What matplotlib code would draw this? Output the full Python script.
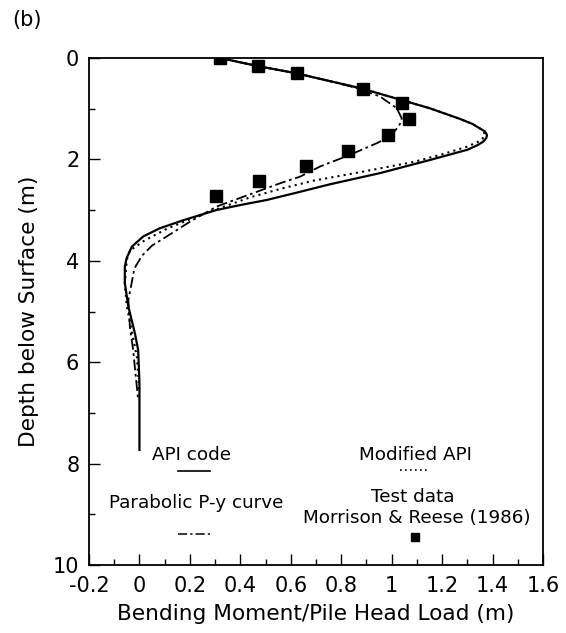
import matplotlib
matplotlib.use("Agg")
import matplotlib.pyplot as plt
from matplotlib.lines import Line2D

plt.rcParams['font.family'] = ['DejaVu Sans']

# ---- data (x = bending moment / pile head load, depth in m) ----
test_x = [0.32, 0.47, 0.625, 0.885, 1.04, 1.07, 0.985, 0.825, 0.66, 0.475, 0.305]
test_depth = [0.0, 0.16, 0.30, 0.61, 0.89, 1.20, 1.52, 1.83, 2.13, 2.43, 2.72]

api_x = [0.32, 0.47, 0.62, 0.75, 0.88, 1.04, 1.15, 1.27, 1.32, 1.35, 1.37, 1.378,
         1.375, 1.363, 1.34, 1.30, 1.153, 0.954, 0.756, 0.62, 0.505, 0.40, 0.304,
         0.174, 0.08, 0.015, -0.03, -0.051, -0.058, -0.058, -0.044, -0.018,
         -0.005, 0.0, 0.0]
api_depth = [0.0, 0.16, 0.30, 0.45, 0.60, 0.83, 0.99, 1.20, 1.30, 1.39, 1.45, 1.52,
             1.58, 1.65, 1.72, 1.81, 2.01, 2.27, 2.49, 2.66, 2.80, 2.90, 3.00,
             3.20, 3.36, 3.52, 3.72, 3.95, 4.12, 4.44, 4.90, 5.43,
             5.76, 6.41, 7.73]

mod_x = [0.32, 0.47, 0.62, 0.75, 0.88, 1.04, 1.15, 1.27, 1.32, 1.35, 1.365, 1.37,
         1.36, 1.34, 1.298, 1.20, 1.087, 0.888, 0.69, 0.56, 0.438, 0.24, 0.108,
         0.02, -0.038, -0.05, -0.058, -0.05, -0.03, -0.01, 0.0]
mod_depth = [0.0, 0.16, 0.30, 0.45, 0.60, 0.83, 0.99, 1.20, 1.30, 1.39, 1.46, 1.52,
             1.59, 1.66, 1.75, 1.90, 2.05, 2.24, 2.42, 2.58, 2.75, 3.10, 3.37,
             3.60, 3.80, 3.98, 4.44, 4.90, 5.40, 5.90, 6.60]

par_x = [0.32, 0.47, 0.62, 0.75, 0.86, 0.954, 1.02, 1.04, 1.035, 1.027, 0.994,
         0.941, 0.835, 0.716, 0.637, 0.558, 0.465, 0.306, 0.20, 0.108, 0.05,
         0.01, -0.02, -0.031, -0.044, -0.038, -0.025, -0.005]
par_depth = [0.0, 0.16, 0.30, 0.45, 0.59, 0.76, 0.99, 1.19, 1.28, 1.35, 1.55,
             1.68, 1.91, 2.14, 2.34, 2.47, 2.64, 2.93, 3.23, 3.52, 3.70,
             3.90, 4.15, 4.44, 4.77, 5.30, 5.76, 6.75]

xticks = [-0.2, 0.0, 0.2, 0.4, 0.6, 0.8, 1.0, 1.2, 1.4, 1.6]
xtick_labels = ["-0.2", "0", "0.2", "0.4", "0.6", "0.8", "1", "1.2", "1.4", "1.6"]
yticks = [0, 2, 4, 6, 8, 10]
ytick_labels = ["0", "2", "4", "6", "8", "10"]

fig = plt.figure(figsize=(5.66, 6.33), dpi=100)
ax = fig.add_axes([89 / 566, (633 - 565) / 633, 454 / 566, 507 / 633])

ax.plot(api_x, api_depth, color='black', lw=1.6, ls='-')
ax.plot(mod_x, mod_depth, color='black', lw=1.5, ls=(0, (1, 2)))
ax.plot(par_x, par_depth, color='black', lw=1.3, ls=(0, (6, 2, 1.5, 2)))
ax.plot(test_x, test_depth, ls='none', marker='s', ms=8.5, color='black')

ax.set_xlim(-0.2, 1.6)
ax.set_ylim(10, 0)
ax.set_xticks(xticks)
ax.set_xticklabels(xtick_labels)
ax.set_yticks(yticks)
ax.set_yticklabels(ytick_labels)
ax.set_xticks([v / 10 for v in range(-1, 16, 2)], minor=True)
ax.set_yticks([1, 3, 5, 7, 9], minor=True)
ax.tick_params(which='major', direction='in', length=8, width=1.0, labelsize=15, pad=8)
ax.tick_params(which='minor', direction='in', length=4, width=1.0)
ax.tick_params(axis='y', which='major', pad=7)
for s in ax.spines.values():
    s.set_linewidth(1.3)

ax.set_xlabel("Bending Moment/Pile Head Load (m)", fontsize=15.6, labelpad=6)
ax.set_ylabel("Depth below Surface (m)", fontsize=15.6, labelpad=10)

# legend (manual layout)
T = ax.transAxes
fs = 13.2
ax.text(0.225, 0.217, "API code", transform=T, ha='center', va='center', fontsize=fs)
ax.add_line(Line2D([0.196, 0.267], [0.186, 0.186], transform=T, color='black', lw=1.2))
ax.text(0.718, 0.217, "Modified API", transform=T, ha='center', va='center', fontsize=fs)
ax.add_line(Line2D([0.685, 0.751], [0.188, 0.188], transform=T, color='black', lw=1.2,
                   ls=(0, (1, 2))))
ax.text(0.236, 0.122, "Parabolic P-y curve", transform=T, ha='center', va='center', fontsize=fs)
ax.add_line(Line2D([0.196, 0.267], [0.061, 0.061], transform=T, color='black', lw=1.1,
                   ls=(0, (6, 2, 1.5, 2))))
ax.text(0.714, 0.134, "Test data", transform=T, ha='center', va='center', fontsize=fs)
ax.text(0.721, 0.093, "Morrison & Reese (1986)", transform=T, ha='center', va='center', fontsize=fs)
ax.add_line(Line2D([0.718], [0.055], transform=T, ls='none', marker='s', ms=6, color='black'))

fig.text(27 / 566, 1 - 20 / 633, "(b)", ha='center', va='center', fontsize=15)

fig.savefig("out.png", dpi=100)
